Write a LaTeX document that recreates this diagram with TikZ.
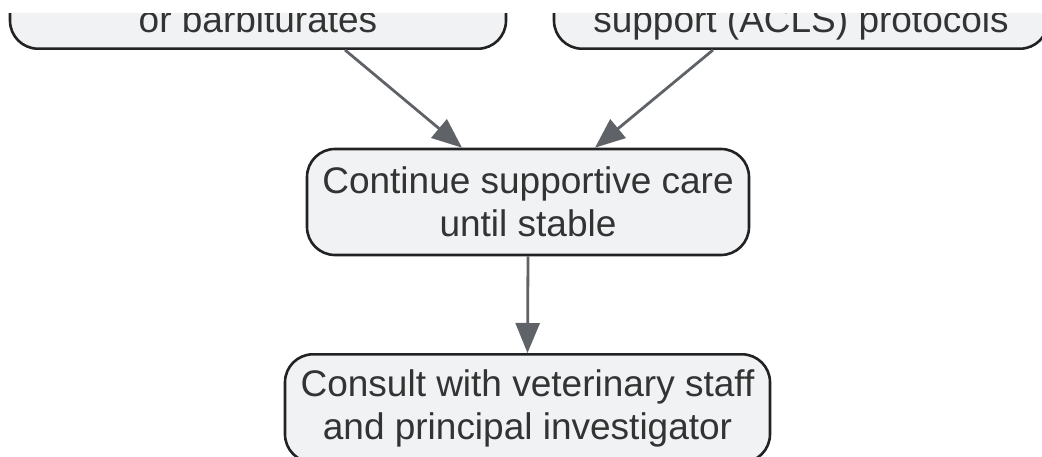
\documentclass[tikz,border=0pt]{standalone}
\usepackage{fontspec}
\setmainfont{Liberation Sans}
\usetikzlibrary{arrows.meta}
\definecolor{boxfill}{HTML}{F1F2F4}
\definecolor{boxline}{HTML}{222222}
\definecolor{arrowc}{HTML}{5F6368}
\definecolor{txt}{HTML}{333333}
\tikzset{
  box/.style={draw=boxline, line width=2.6pt, fill=boxfill, rounded corners=28pt, inner sep=0pt},
  lbl/.style={text=txt, font=\fontsize{37}{43}\selectfont, align=center, inner sep=0pt},
  conn/.style={draw=arrowc, line width=2.8pt, -{Triangle[length=30pt,width=24pt]}, shorten >=0pt},
}
\begin{document}
\begin{tikzpicture}[x=1pt,y=-1pt]
\useasboundingbox (0,0) rectangle (1042,457);
\begin{scope}
\clip (0,14) rectangle (1042,457);
\node[box, minimum width=496pt, minimum height=120pt, anchor=south] (tl) at (258,50) {};
\node[lbl, anchor=base] (tltext) at (258,33) {or barbiturates};
\node[box, minimum width=494pt, minimum height=120pt, anchor=south] (tr) at (801,50) {};
\node[lbl, anchor=base] (trtext) at (801,33) {support (ACLS) protocols};
\node[box, lbl, minimum width=442pt, minimum height=106pt] (mid) at (528,202) {Continue supportive care\\until stable};
\node[box, lbl, minimum width=485pt, minimum height=108pt, anchor=north] (bot) at (527.5,353) {Consult with veterinary staff\\and principal investigator};
\draw[conn] ([xshift=87pt]tl.south) -- ([xshift=-66pt]mid.north);
\draw[conn] ([xshift=-88pt]tr.south) -- ([xshift=67pt]mid.north);
\draw[conn] (mid.south) -- (bot.north);
\end{scope}
\end{tikzpicture}
\end{document}
